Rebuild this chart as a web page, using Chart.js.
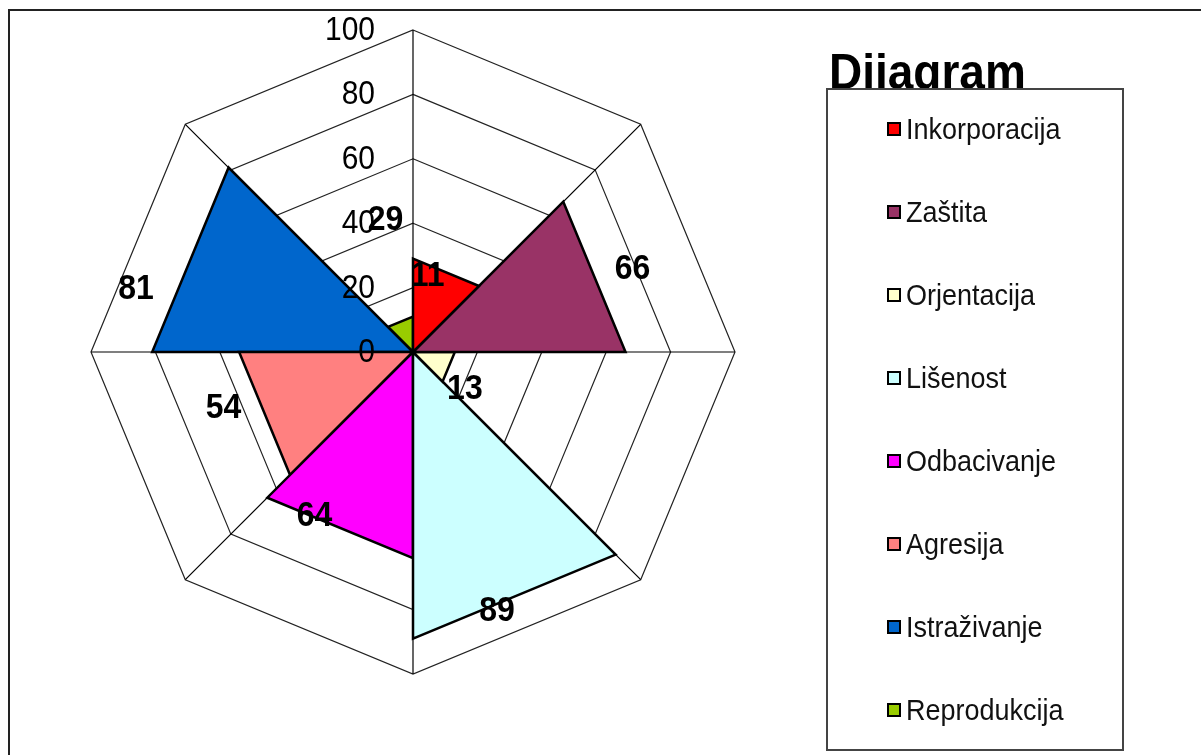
<!DOCTYPE html>
<html>
<head>
<meta charset="utf-8">
<script src="https://cdn.jsdelivr.net/npm/chart.js@4.4.1/dist/chart.umd.min.js"></script>
<style>
  html, body { margin: 0; padding: 0; background: #fff; }
  #wrap { position: relative; width: 1201px; height: 755px; overflow: hidden; font-family: "Liberation Sans", Arial, sans-serif; }
  #frame { position: absolute; left: 8px; top: 9px; right: -5px; bottom: -5px; border-top: 2px solid #222; border-left: 2px solid #222; }
  #chartCanvas { position: absolute; left: 0; top: 0; }
  #title { position: absolute; left: 829px; top: 47px; font-size: 46px; font-weight: bold; line-height: 46px; color: #000; transform: scaleY(1.08); transform-origin: left top; }
  #legend { position: absolute; left: 826px; top: 88px; width: 298px; height: 663px; border: 2px solid #444; background: #fff; box-sizing: border-box; }
  .item { position: absolute; left: 59px; height: 30px; display: flex; align-items: center; font-size: 27px; color: #111; }
  .item span.txt { display: inline-block; transform: scaleY(1.08); }
  .swatch { width: 10px; height: 10px; border: 2px solid #000; margin-right: 5px; }
</style>
</head>
<body>
<div id="wrap">
  <div id="frame"></div>
  <canvas id="chartCanvas" width="1201" height="755"></canvas>
  <div id="title">Dijagram</div>
  <div id="legend"></div>
</div>
<script>
// spokes of the radar (no labels shown in the original)
const categories = ["1", "2", "3", "4", "5", "6", "7", "8"];
// one series per spoke, filling the wedge between spoke i and spoke i+1
const seriesNames = ["Inkorporacija", "Zaštita", "Orjentacija", "Lišenost", "Odbacivanje", "Agresija", "Istraživanje", "Reprodukcija"];
const seriesValues = [29, 66, 13, 89, 64, 54, 81, 11];
const seriesColors = ["#FF0000", "#993366", "#FFFFCC", "#CCFFFF", "#FF00FF", "#FF8080", "#0066CC", "#99CC00"];
const tickLabels = [0, 20, 40, 60, 80, 100];

// where each value label sits: [fractional spoke index, radius in axis units]
const labelSpots = [[7.74, 42], [1.535, 73], [2.77, 19.6], [3.6, 84.4], [4.69, 59.3], [5.64, 61.3], [6.29, 88.3], [0.24, 24.3]];

const datasets = seriesNames.map((name, i) => {
  const next = (i + 1) % categories.length;
  return {
    label: name,
    data: categories.map((c, j) => (j === i || j === next) ? seriesValues[i] : 0),
    backgroundColor: seriesColors[i],
    borderColor: "#000",
    borderWidth: 2.5,
    fill: true,
    pointRadius: 0,
    pointHoverRadius: 0,
    tension: 0,
  };
});

// text slightly stretched vertically like the original export
function tallText(ctx, str, x, y) {
  ctx.save();
  ctx.translate(x, y);
  ctx.scale(1, 1.1);
  ctx.fillText(str, 0, 0);
  ctx.restore();
}

// tick numbers and value labels, drawn on top of the wedges
const textPlugin = {
  id: "radarText",
  afterDatasetsDraw(chart) {
    const ctx = chart.ctx;
    const r = chart.scales.r;
    ctx.save();
    ctx.fillStyle = "#000";
    ctx.textBaseline = "middle";

    ctx.font = "30px 'Liberation Sans', Arial, sans-serif";
    ctx.textAlign = "right";
    tickLabels.forEach((t) => {
      const y = r.yCenter - r.getDistanceFromCenterForValue(t);
      tallText(ctx, String(t), r.xCenter - 38, y + 1);
    });

    ctx.font = "bold 32px 'Liberation Sans', Arial, sans-serif";
    ctx.textAlign = "center";
    seriesValues.forEach((v, i) => {
      const spot = labelSpots[i];
      const p = r.getPointPosition(spot[0], r.getDistanceFromCenterForValue(spot[1]));
      tallText(ctx, String(v), p.x, p.y + 1);
    });
    ctx.restore();
  },
};

new Chart(document.getElementById("chartCanvas").getContext("2d"), {
  type: "radar",
  data: { labels: categories, datasets: datasets },
  options: {
    responsive: false,
    animation: false,
    events: [],
    layout: { padding: { left: 91, top: 30, right: 466, bottom: 81 } },
    plugins: { legend: { display: false }, tooltip: { enabled: false } },
    elements: { line: { tension: 0 } },
    scales: {
      r: {
        min: 0,
        max: 100,
        ticks: { display: false, stepSize: 20 },
        pointLabels: { display: false },
        grid: { color: "#222", lineWidth: 1.2 },
        angleLines: { color: "#000", lineWidth: 1.2 },
      },
    },
  },
  plugins: [textPlugin],
});

// legend box on the right
const legend = document.getElementById("legend");
seriesNames.forEach((name, i) => {
  const item = document.createElement("div");
  item.className = "item";
  item.style.top = (24 + i * 83) + "px";
  item.innerHTML = '<span class="swatch" style="background:' + seriesColors[i] + '"></span><span class="txt">' + name + '</span>';
  legend.appendChild(item);
});
</script>
</body>
</html>
